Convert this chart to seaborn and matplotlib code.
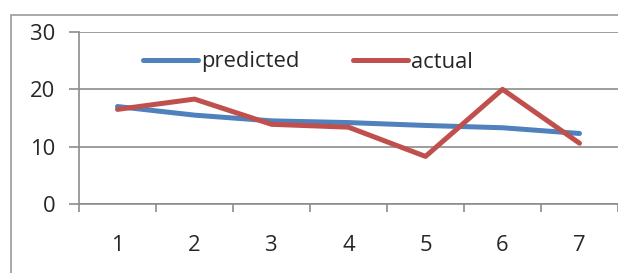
import numpy as np
import pandas as pd
import seaborn as sns
import matplotlib.pyplot as plt
from matplotlib.patches import Rectangle

# values
periods = [1, 2, 3, 4, 5, 6, 7]
predicted = [17.0, 15.5, 14.5, 14.2, 13.7, 13.3, 12.3]
actual = [16.5, 18.3, 13.9, 13.4, 8.3, 20.0, 10.6]
y_ticks = [0, 10, 20, 30]

df = pd.DataFrame({'period': periods, 'predicted': predicted, 'actual': actual})

sns.set_style('white')
plt.rcParams['font.family'] = ['Open Sans', 'DejaVu Sans']
FS = 15.8

fig = plt.figure(figsize=(6.18, 2.73), dpi=100)
ax = fig.add_axes([79 / 618, 69 / 273, 539 / 618, 172 / 273])

# outer chart border (runs off the right/bottom of the picture)
fig.patches.append(Rectangle((11 / 618, -0.1), 1.2, (273 - 15) / 273 + 0.1,
                             transform=fig.transFigure, fill=False,
                             edgecolor='#9a9a9a', linewidth=1.2, zorder=0))

sns.lineplot(data=df, x='period', y='predicted', ax=ax, color='#4F81BD',
             linewidth=3.6, label='predicted', solid_capstyle='round')
sns.lineplot(data=df, x='period', y='actual', ax=ax, color='#C0504D',
             linewidth=3.6, label='actual', solid_capstyle='round')

ax.set_xlim(0.5, 7.5)
ax.set_ylim(0, 30)
ax.set_yticks(y_ticks)
ax.yaxis.grid(True, color='#8c8c8c', linewidth=1.2)
ax.set_axisbelow(True)

# category boundary ticks, labels in the middle
ax.set_xticks(np.arange(0.5, 8.0, 1.0))
ax.set_xticklabels([])
ax.set_xticks(periods, minor=True)
ax.set_xticklabels([str(p) for p in periods], minor=True)
ax.tick_params(axis='x', which='major', length=6, width=1.2, color='#8c8c8c', direction='out')
ax.tick_params(axis='x', which='minor', length=0, pad=22, labelsize=FS)
ax.tick_params(axis='y', length=7, width=1.2, color='#8c8c8c', pad=10, labelsize=FS)
ax.tick_params(bottom=True, left=True)

for s in ['top', 'right']:
    ax.spines[s].set_visible(False)
for s in ['left', 'bottom']:
    ax.spines[s].set_color('#8c8c8c')
    ax.spines[s].set_linewidth(1.2)

ax.set_xlabel('')
ax.set_ylabel('')
ax.legend(loc='center left', bbox_to_anchor=(143 / 618, 211 / 273),
          bbox_transform=fig.transFigure, ncol=2, frameon=False,
          fontsize=FS, handlelength=2.5, handletextpad=0.15,
          columnspacing=2.45, borderpad=0, borderaxespad=0)

fig.savefig('out.png', dpi=100)
